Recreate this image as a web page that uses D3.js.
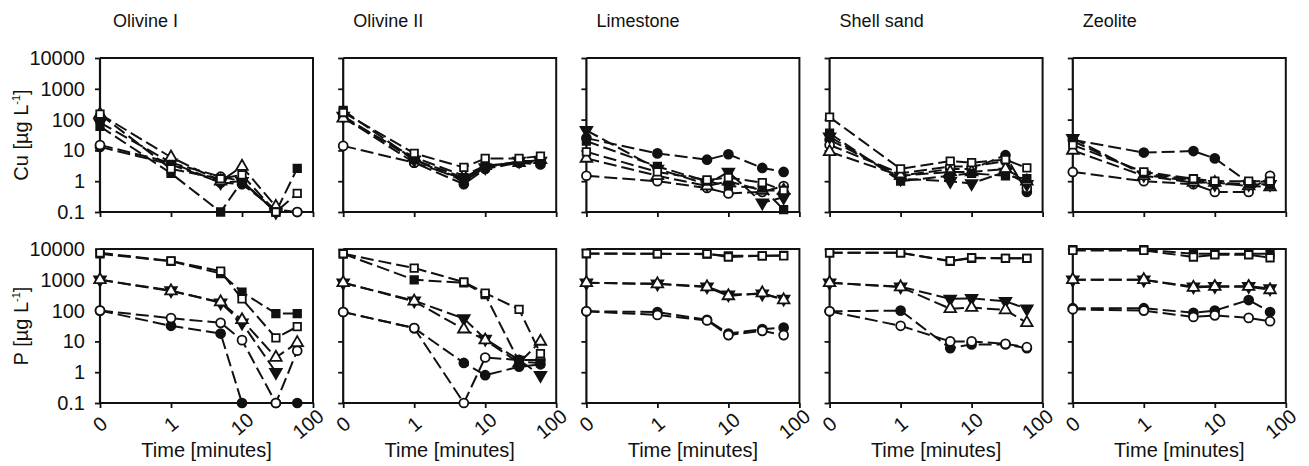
<!DOCTYPE html>
<html>
<head>
<meta charset="utf-8">
<script src="https://cdn.jsdelivr.net/npm/d3@7"></script>
<style>
  body { margin: 0; background: #fff; }
  text { font-family: "Liberation Sans", Arial, sans-serif; fill: #111; }
</style>
</head>
<body>
<svg id="chart" width="1309" height="466"></svg>
<script>
// Sampling times (minutes); t = 0 is drawn one decade left of t = 1
const times = [0, 1, 5, 10, 30, 60];
const materials = ["Olivine I", "Olivine II", "Limestone", "Shell sand", "Zeolite"];
// One marker style per series, same order as the rows of each value table
const seriesSymbols = ["filledCircle", "openCircle", "filledTriangleDown", "openTriangleUp", "filledSquare", "openSquare"];
const xTickValues = [0, 1, 10, 100];
const xTickLabels = ["0", "1", "10", "100"];
const yTickValues = [0.1, 1, 10, 100, 1000, 10000];
const yTickLabels = ["0.1", "1", "10", "100", "1000", "10000"];

// Cu concentration [µg/L]
const cuOlivineI = [
  [13, 3.5, 0.9, 0.8, 0.12, 0.1],
  [15, 4, 1.4, 1.0, 0.1, 0.1],
  [80, 4, 0.9, 1.0, 0.1, null],
  [150, 6, 1.0, 3.0, 0.15, null],
  [60, 1.8, 0.1, 1.0, 0.1, 2.6],
  [150, 2.5, 1.2, 1.6, 0.1, 0.4]
];
const cuOlivineII = [
  [120, 4, 0.8, 2.5, 4, 3.5],
  [14, 4, 1.2, 3, 4, 4],
  [130, 5, 1.0, 2.8, 4.5, 4.5],
  [110, 6, 1.5, 3.2, 4, 5],
  [200, 5, 1.3, 3, 4.2, 4],
  [170, 8, 2.8, 5.5, 5.5, 6.5]
];
const cuLimestone = [
  [25, 8, 5, 7.5, 2.7, 2],
  [1.5, 1.0, 0.6, 0.4, 0.45, 0.7],
  [45, 2.5, 0.8, 2.0, 0.2, 0.3],
  [5.5, 1.5, 0.7, 1.0, 0.5, 0.5],
  [20, 3, 1.0, 0.7, 0.6, 0.12],
  [9, 2, 1.1, 1.3, 0.9, 0.5]
];
const cuShellSand = [
  [22, 1.5, 2.5, 2.5, 7, 0.45],
  [15, 1.8, 3.0, 3.0, 4.5, 0.6],
  [28, 1.2, 1.0, 0.85, 2.0, 0.8],
  [9, 1.5, 2.0, 2.0, 2.5, 1.0],
  [36, 1.0, 1.5, 1.8, 1.5, 1.2],
  [120, 2.5, 4.5, 4.0, 5, 2.7]
];
const cuZeolite = [
  [22, 8.5, 9.5, 5.5, 0.9, 1.0],
  [2.0, 1.0, 0.8, 0.45, 0.45, 1.5],
  [25, 1.6, 1.0, 0.8, 0.8, 0.8],
  [10, 1.5, 0.9, 0.9, 0.7, 0.65],
  [20, 1.8, 1.1, 0.9, 0.8, 0.75],
  [15, 2.0, 1.2, 1.0, 1.0, 1.0]
];

// P concentration [µg/L]
const pOlivineI = [
  [100, 32, 18, 0.1, 0.1, 0.1],
  [100, 57, 40, 11, 0.1, 5],
  [1000, 450, 180, 40, 1, null],
  [1000, 430, 190, 50, 3, 9],
  [7000, 4000, 1600, 400, 80, 80],
  [7500, 4100, 1900, 240, 13, 30]
];
const pOlivineII = [
  [90, 27, 2, 0.8, 1.5, 1.8],
  [90, 27, 0.1, 3, 2.5, 2.5],
  [800, 210, 55, 12, 2.5, 0.8],
  [800, 200, 25, 11, 2, 10],
  [7000, 1000, 800, 330, 2.2, 2],
  [7000, 2400, 850, 370, 110, 4]
];
const pLimestone = [
  [95, 90, 50, 18, 25, 28],
  [95, 72, 48, 16, 22, 16],
  [800, 750, 600, 330, 350, 240],
  [800, 730, 580, 300, 370, 220],
  [7000, 7000, 6800, 6000, 6000, 6200],
  [7200, 7000, 7000, 5500, 6000, 6000]
];
const pShellSand = [
  [95, 100, 6, 8, 8, 6],
  [95, 32, 10, 10, 8.3, 6.5],
  [800, 600, 240, 250, 200, 115],
  [800, 580, 115, 125, 105, 40],
  [7500, 7500, 4000, 5000, 5000, 5000],
  [7500, 7500, 4100, 5200, 5000, 5000]
];
const pZeolite = [
  [120, 120, 85, 100, 220, 90],
  [110, 100, 62, 70, 58, 45],
  [1000, 1000, 600, 620, 620, 520],
  [1000, 1000, 560, 600, 600, 470],
  [9500, 9500, 7000, 7000, 7000, 7000],
  [9000, 9000, 5500, 6500, 6500, 5200]
];

const rows = [
  { label: "Cu", top: 58, tables: [cuOlivineI, cuOlivineII, cuLimestone, cuShellSand, cuZeolite] },
  { label: "P", top: 249, tables: [pOlivineI, pOlivineII, pLimestone, pShellSand, pZeolite] }
];

// ---- layout ----
const panelW = 213, panelH = 154, firstLeft = 100, panelStep = 243.2;
const ink = "#111";
const svg = d3.select("#chart");

const x = d3.scaleLog().domain([0.1, 100]).range([0, panelW]);
const xPos = t => x(t === 0 ? 0.1 : t);
const y = d3.scaleLog().domain([0.1, 10000]).range([panelH, 0]);

const symbolDefs = {
  filledCircle:       { type: d3.symbolCircle,   size: 62, fill: ink,    rot: 0 },
  openCircle:         { type: d3.symbolCircle,   size: 62, fill: "#fff", rot: 0 },
  filledTriangleDown: { type: d3.symbolTriangle, size: 58, fill: ink,    rot: 180 },
  openTriangleUp:     { type: d3.symbolTriangle, size: 58, fill: "#fff", rot: 0 },
  filledSquare:       { type: d3.symbolSquare,   size: 56, fill: ink,    rot: 0 },
  openSquare:         { type: d3.symbolSquare,   size: 56, fill: "#fff", rot: 0 }
};

const line = d3.line()
  .defined(d => d.v != null)
  .x(d => xPos(d.t))
  .y(d => y(d.v));

rows.forEach((row, ri) => {
  materials.forEach((name, mi) => {
    const left = firstLeft + mi * panelStep;
    const g = svg.append("g").attr("transform", `translate(${left},${row.top})`);

    // frame: top and right edges
    g.append("path")
      .attr("d", `M0,0H${panelW}V${panelH}`)
      .attr("fill", "none").attr("stroke", ink).attr("stroke-width", 2);

    // left axis
    const yAxis = d3.axisLeft(y).tickValues(yTickValues).tickSize(5)
      .tickFormat((d, i) => mi === 0 ? yTickLabels[i] : "");
    const ya = g.append("g").call(yAxis);
    ya.select(".domain").attr("stroke", ink).attr("stroke-width", 2.2).attr("d", `M0,0V${panelH}`);
    ya.selectAll(".tick line").attr("stroke", ink).attr("stroke-width", 1.8);
    ya.selectAll(".tick text")
      .attr("x", -15).attr("font-size", 20)
      .attr("font-family", '"Liberation Sans", Arial, sans-serif').attr("fill", ink);

    // bottom axis
    const xa = g.append("g").attr("transform", `translate(0,${panelH})`)
      .call(d3.axisBottom(x).tickValues(xTickValues.map(t => t === 0 ? 0.1 : t)).tickSize(5).tickFormat(""));
    xa.select(".domain").attr("stroke", ink).attr("stroke-width", 2.2).attr("d", `M0,0H${panelW}`);
    xa.selectAll(".tick line").attr("stroke", ink).attr("stroke-width", 1.8);

    if (ri === 1) {
      xTickValues.forEach((t, i) => {
        g.append("text")
          .attr("transform", `translate(${xPos(t) - (i === 3 ? 5 : 0)},${panelH + 21}) rotate(-40)`)
          .attr("text-anchor", "middle").attr("dominant-baseline", "central")
          .attr("font-size", 20).text(xTickLabels[i]);
      });
      g.append("text")
        .attr("x", panelW / 2).attr("y", panelH + 54)
        .attr("text-anchor", "middle").attr("font-size", 20)
        .text("Time [minutes]");
    } else {
      g.append("text")
        .attr("x", (mi === 0 ? 13 : 10)).attr("y", -31)
        .attr("font-size", 18)
        .text(name);
    }

    // series: dashed connecting lines, then markers
    const table = row.tables[mi];
    table.forEach((vals) => {
      const pts = times.map((t, k) => ({ t, v: vals[k] }));
      g.append("path")
        .attr("d", line(pts))
        .attr("fill", "none").attr("stroke", ink)
        .attr("stroke-width", 2).attr("stroke-dasharray", "13,5");
    });
    table.forEach((vals, si) => {
      const def = symbolDefs[seriesSymbols[si]];
      const sym = d3.symbol().type(def.type).size(def.size);
      times.forEach((t, k) => {
        if (vals[k] == null) return;
        g.append("path")
          .attr("d", sym())
          .attr("transform", `translate(${xPos(t)},${y(vals[k])}) rotate(${def.rot})`)
          .attr("fill", def.fill).attr("stroke", ink).attr("stroke-width", 1.8);
      });
    });
  });

  // row title on the left
  const cy = row.top + panelH / 2;
  const title = svg.append("text")
    .attr("transform", `translate(28,${cy}) rotate(-90)`)
    .attr("text-anchor", "middle").attr("font-size", 20);
  title.append("tspan").text(`${row.label} [µg L`);
  title.append("tspan").attr("dy", -8).attr("font-size", 11).text("-1");
  title.append("tspan").attr("dy", 8).text("]");
});
</script>
</body>
</html>
